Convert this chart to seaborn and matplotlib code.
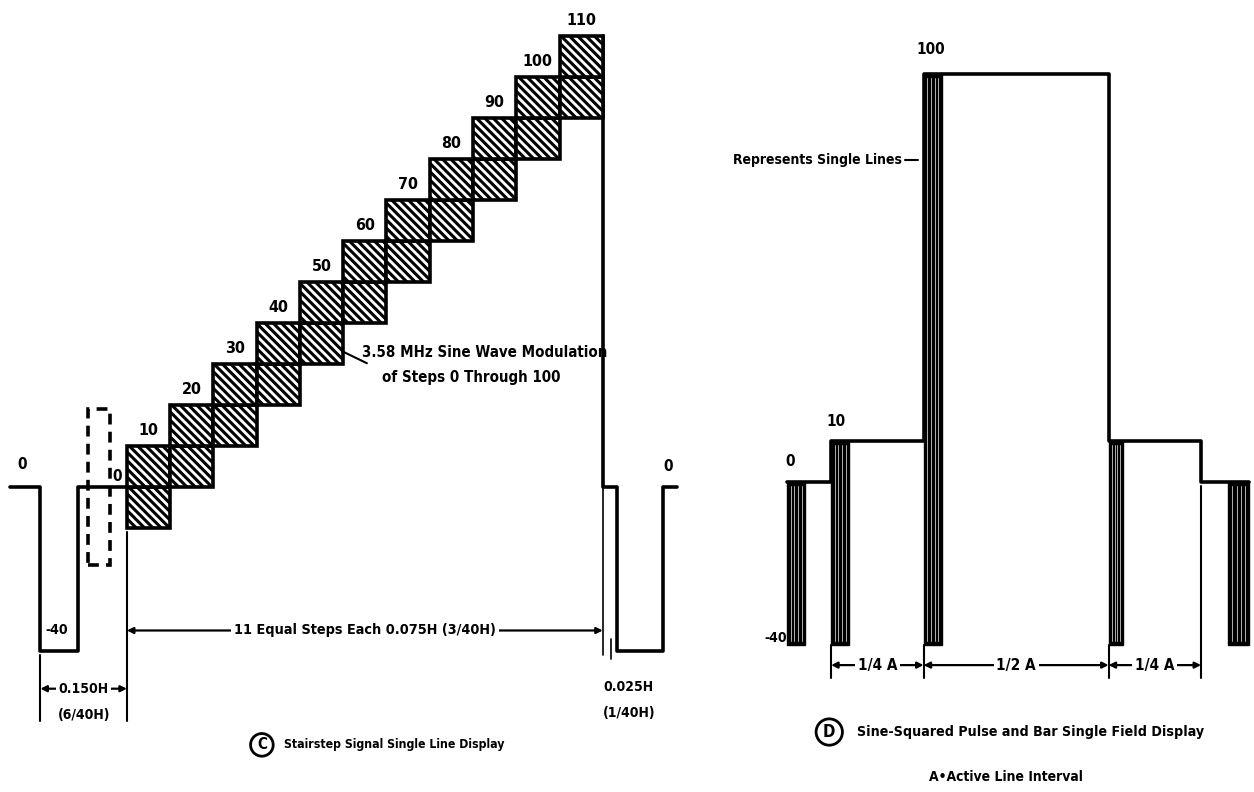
import numpy as np
import matplotlib
matplotlib.use("Agg")
import matplotlib.pyplot as plt
from matplotlib.patches import Rectangle
import seaborn as sns

sns.set_theme(style="white")
plt.rcParams['font.family'] = ['DejaVu Sans']
plt.rcParams['font.stretch'] = 'condensed'
plt.rcParams['font.weight'] = 'bold'
plt.rcParams['text.color'] = 'black'
plt.rcParams['hatch.linewidth'] = 2.2

# ---- panel C: stairstep, time in H (0 = first step), level in IRE ----
step_width = 0.075
step_levels = [0, 10, 20, 30, 40, 50, 60, 70, 80, 90, 100]
step_labels = ["10", "20", "30", "40", "50", "60", "70", "80", "90", "100", "110"]
mod_amp = 10
front_t = [-0.203, -0.150, -0.150, -0.085, -0.085, 0.0]
front_v = [0, 0, -40, -40, 0, 0]
back_t = [0.825, 0.825, 0.85, 0.85, 0.93, 0.93, 0.953]
back_v = [110, 0, 0, -40, -40, 0, 0]
burst_t = [-0.068, -0.029]
burst_v = [-19, 19]

# ---- panel D: pulse and bar, time in A (0 = start of active line) ----
bar_u = [-0.119, 0.0, 0.0, 0.25, 0.25, 0.75, 0.75, 1.0, 1.0, 1.13]
bar_v = [0, 0, 10, 10, 100, 100, 10, 10, 0, 0]
pack_start = [-0.119, 0.0, 0.25, 0.75, 1.073]
pack_end = [-0.07, 0.049, 0.30, 0.79, 1.13]
pack_top = [0, 10, 100, 10, 0]
pack_bottom = -40
dim_edges = [0.0, 0.25, 0.75, 1.0]
dim_labels = ["1/4 A", "1/2 A", "1/4 A"]

LW = 2.6
FS = 11


def dimension(ax, x0, x1, y, label, fs=FS):
    ax.annotate('', xy=(x1, y), xytext=(x0, y),
                arrowprops=dict(arrowstyle='<|-|>', color='black', lw=1.6,
                                mutation_scale=9, shrinkA=0, shrinkB=0))
    ax.text((x0 + x1) / 2, y, label, ha='center', va='center', fontsize=fs,
            bbox=dict(facecolor='white', edgecolor='none', pad=2))


fig = plt.figure(figsize=(12.54, 7.92), dpi=100)
axc = fig.add_axes([0, 0, 702 / 1254, 1])
axd = fig.add_axes([702 / 1254, 0, 552 / 1254, 1])

# ---- stairstep ----
for k, lvl in enumerate(step_levels):
    for bottom in (lvl - mod_amp, lvl):
        axc.bar(k * step_width, mod_amp, width=step_width, bottom=bottom,
                align='edge', color='white', edgecolor='black', hatch='\\\\\\\\',
                linewidth=LW, zorder=3)
    axc.text(k * step_width + step_width / 2, lvl + mod_amp + 3.8, step_labels[k],
             ha='center', va='center', fontsize=FS + 0.5)

sns.lineplot(x=front_t, y=front_v, sort=False, estimator=None, color='black',
             linewidth=LW, ax=axc)
sns.lineplot(x=back_t, y=back_v, sort=False, estimator=None, color='black',
             linewidth=LW, ax=axc)
axc.add_patch(Rectangle((burst_t[0], burst_v[0]), burst_t[1] - burst_t[0],
                        burst_v[1] - burst_v[0], fill=False, ls=(0, (3, 2)),
                        lw=LW, edgecolor='black'))

axc.text(-0.182, 5.4, "0", ha='center', va='center', fontsize=FS)
axc.text(-0.121, -35, "-40", ha='center', va='center', fontsize=FS - 1)
axc.text(-0.017, 2.5, "0", ha='center', va='center', fontsize=FS)
axc.text(0.938, 4.9, "0", ha='center', va='center', fontsize=FS)

# modulation note
axc.plot([0.369, 0.416], [33.4, 30.2], color='black', lw=1.5)
axc.text(0.407, 32.7, "3.58 MHz Sine Wave Modulation", ha='left', va='center', fontsize=10.8)
axc.text(0.442, 26.6, "of Steps 0 Through 100", ha='left', va='center', fontsize=10.8)

# dimension lines
axc.plot([0, 0], [-11, -57], color='black', lw=1.5)
axc.plot([-0.15, -0.15], [-41, -57], color='black', lw=1.5)
axc.plot([0.825, 0.825], [0, -41], color='black', lw=1.2)
axc.plot([0.84, 0.84], [-37, -42], color='black', lw=1.2)
dimension(axc, 0.0, 0.825, -35, "11 Equal Steps Each 0.075H (3/40H)", fs=10.4)
dimension(axc, -0.15, 0.0, -49.2, "0.150H", fs=10)
axc.text(-0.075, -55.5, "(6/40H)", ha='center', va='center', fontsize=10)
axc.text(0.87, -48.8, "0.025H", ha='center', va='center', fontsize=10)
axc.text(0.87, -55.2, "(1/40H)", ha='center', va='center', fontsize=10)

axc.text(0.234, -62.9, "C", ha='center', va='center', fontsize=11,
         bbox=dict(boxstyle='circle,pad=0.25', facecolor='white', edgecolor='black', lw=2))
axc.text(0.272, -62.9, "Stairstep Signal Single Line Display", ha='left',
         va='center', fontsize=8.8)

axc.set_xlim(-0.220, 0.997)
axc.set_ylim(-74.4, 118.8)
axc.axis('off')

# ---- pulse and bar ----
for s, e, top in zip(pack_start, pack_end, pack_top):
    axd.bar(s, top - pack_bottom, width=e - s, bottom=pack_bottom, align='edge',
            color='black', edgecolor='black', linewidth=1, zorder=2)
    for xx in np.linspace(s, e, 6)[1:-1]:
        axd.plot([xx, xx], [pack_bottom + 1, top - 1], color='white', lw=0.6,
                 alpha=0.8, zorder=3)
sns.lineplot(x=bar_u, y=bar_v, sort=False, estimator=None, color='black',
             linewidth=LW, ax=axd)

axd.text(-0.111, 4.9, "0", ha='center', va='center', fontsize=FS)
axd.text(-0.151, -38.2, "-40", ha='center', va='center', fontsize=FS - 1)
axd.text(0.014, 14.7, "10", ha='center', va='center', fontsize=FS)
axd.text(0.268, 105.9, "100", ha='center', va='center', fontsize=FS)
axd.text(0.192, 78.9, "Represents Single Lines", ha='right', va='center', fontsize=10)
axd.plot([0.2, 0.235], [78.9, 78.9], color='black', lw=1.5)

for xe in dim_edges[:3]:
    axd.plot([xe, xe], [-40, -48], color='black', lw=1.5)
axd.plot([1.0, 1.0], [-1, -48], color='black', lw=1.5)
for i, lab in enumerate(dim_labels):
    dimension(axd, dim_edges[i], dim_edges[i + 1], -44.9, lab)

axd.text(-0.005, -61.3, "D", ha='center', va='center', fontsize=12,
         bbox=dict(boxstyle='circle,pad=0.25', facecolor='white', edgecolor='black', lw=2))
axd.text(0.07, -61.3, "Sine-Squared Pulse and Bar Single Field Display", ha='left',
         va='center', fontsize=10.2)
axd.text(0.473, -72.3, "A\u2022Active Line Interval", ha='center', va='center',
         fontsize=10)

axd.set_xlim(-0.349, 1.143)
axd.set_ylim(-76.0, 118.1)
axd.axis('off')

fig.savefig("out.png", dpi=100, facecolor='white')
